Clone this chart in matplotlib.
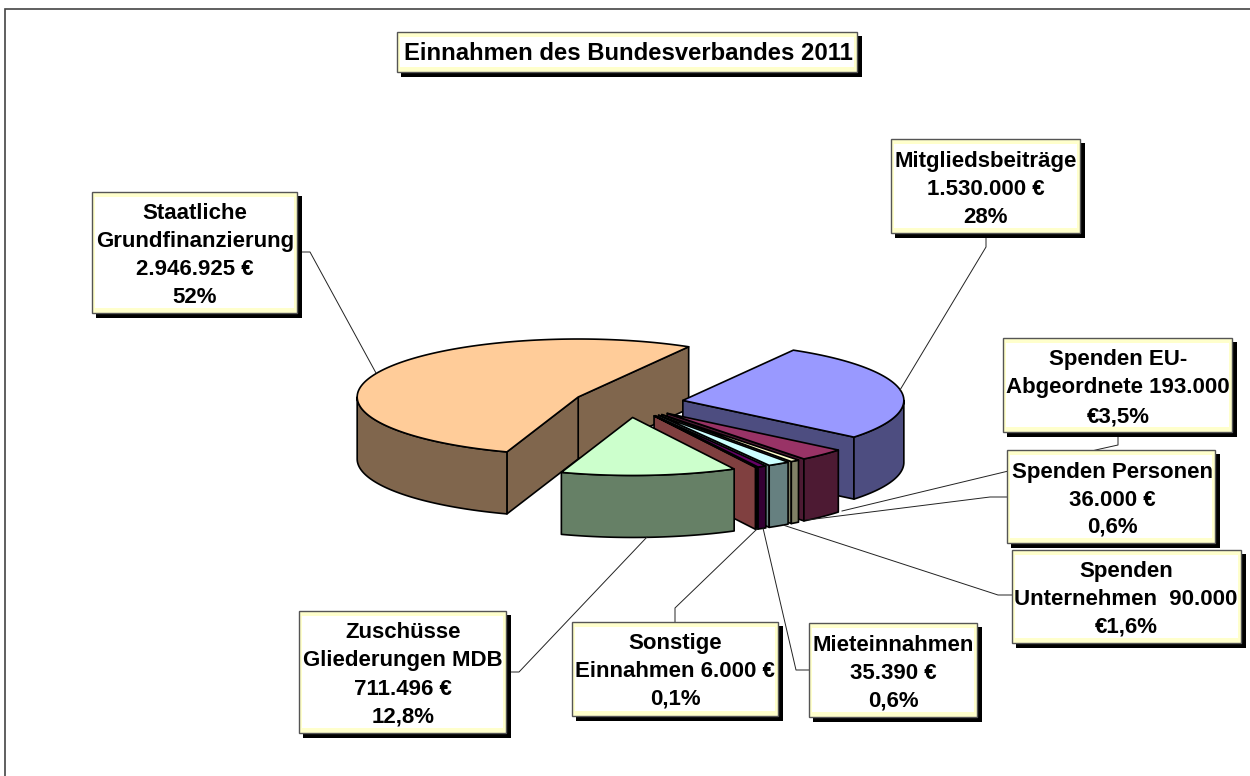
import numpy as np
import matplotlib
matplotlib.use('Agg')
import matplotlib.pyplot as plt
from matplotlib.colors import to_rgb
from matplotlib.patches import Polygon, Rectangle

plt.rcParams['font.family'] = ['Liberation Sans', 'DejaVu Sans']

titulo = 'Einnahmen des Bundesverbandes 2011'

# counter-clockwise on screen, starting at the upper edge of the big slice
categorias = ['Staatliche Grundfinanzierung', 'Zuschüsse Gliederungen MDB', 'Sonstige Einnahmen',
              'Mieteinnahmen', 'Spenden Unternehmen', 'Spenden Personen',
              'Spenden EU-Abgeordnete', 'Mitgliedsbeiträge']
valores = [2946925, 711496, 6000, 35390, 90000, 36000, 193000, 1530000]
colores = ['#FFCC99', '#CCFFCC', '#FF8080', '#660066', '#CCFFFF', '#FFFFCC', '#993366', '#9999FF']

etiquetas = [
    ['Staatliche', 'Grundfinanzierung', '2.946.925 €', '52%'],
    ['Zuschüsse', 'Gliederungen MDB', '711.496 €', '12,8%'],
    ['Sonstige', 'Einnahmen 6.000 €', '0,1%'],
    ['Mieteinnahmen', '35.390 €', '0,6%'],
    ['Spenden', 'Unternehmen  90.000', '€1,6%'],
    ['Spenden Personen', '36.000 €', '0,6%'],
    ['Spenden EU-', 'Abgeordnete 193.000', '€3,5%'],
    ['Mitgliedsbeiträge', '1.530.000 €', '28%'],
]

# layout in pixels: box (x0, y0, x1, y1), text centre, first baseline, line step
cajas = [
    (92, 192, 297, 313, 195, 219, 28),
    (299, 611, 506, 733, 403, 638, 28.3),
    (572, 622, 778, 716, 675, 649, 28),
    (809, 623, 977, 717, 893, 651, 28),
    (1012, 550, 1241, 643, 1126, 577, 28),
    (1007, 450, 1215, 543, 1112, 478, 27.5),
    (1003, 338, 1232, 432, 1118, 365, 28.5),
    (891, 139, 1080, 233, 986, 167, 28),
]
guias = [
    [(297, 252), (310, 252), (376, 373)],
    [(506, 672), (519, 672), (647, 537)],
    [(675, 622), (675, 608), (757, 529)],
    [(809, 670), (796, 670), (763, 528)],
    [(1012, 595), (998, 595), (783, 525)],
    [(1007, 497), (990, 497), (807, 520)],
    [(1118, 432), (1118, 445), (1100, 449), (842, 511)],
    [(986, 233), (986, 247), (900, 390)],
]

CX, CY = 628.5, 403
RX, RY = 221, 58
ALTO = 62
EXPLOSION = 0.25
INICIO = 60


def arco(cx, cy, t0, t1):
    t = np.radians(np.linspace(t0, t1, max(int(abs(t1 - t0)) * 2, 2) + 1))
    return np.column_stack([cx + RX * np.cos(t), cy - RY * np.sin(t)])


def borde(cx, cy, t):
    return arco(cx, cy, t, t)[0]


def dibujar_porcion(ax, t0, t1, color):
    medio = np.radians((t0 + t1) / 2)
    cx = CX + EXPLOSION * RX * np.cos(medio)
    cy = CY - EXPLOSION * RY * np.sin(medio)
    oscuro = tuple(c / 2 for c in to_rgb(color))
    estilo = dict(edgecolor='black', linewidth=1.2, joinstyle='round')

    def pared(t):
        p = borde(cx, cy, t)
        ax.add_patch(Polygon([(cx, cy), p, p + (0, ALTO), (cx, cy + ALTO)], facecolor=oscuro, **estilo))

    # side walls, only those that face the viewer
    if np.sin(np.radians(t0 - 90)) < 0:
        pared(t0)
    if np.sin(np.radians(t1 + 90)) < 0:
        pared(t1)

    # outer rim, lower half of the ellipse
    for a, b in ((180, 360), (540, 720)):
        v0, v1 = max(t0, a), min(t1, b)
        if v1 > v0:
            arriba = arco(cx, cy, v0, v1)
            abajo = arriba[::-1] + (0, ALTO)
            ax.add_patch(Polygon(np.vstack([arriba, abajo]), facecolor=oscuro, **estilo))

    ax.add_patch(Polygon(np.vstack([[(cx, cy)], arco(cx, cy, t0, t1)]), facecolor=color, **estilo))


def dibujar_caja(ax, x0, y0, x1, y1):
    w, h = x1 - x0, y1 - y0
    ax.add_patch(Rectangle((x0 + 4, y0 + 4), w + 0.5, h + 0.5, facecolor='black', edgecolor='none', zorder=5))
    ax.add_patch(Rectangle((x0, y0), w, h, facecolor='#FFFFCC', edgecolor='#555555', linewidth=1.0, zorder=6))
    ax.add_patch(Rectangle((x0 + 3, y0 + 5), w - 6, h - 10, facecolor='white', edgecolor='none', zorder=6))


def main():
    fig = plt.figure(figsize=(12.5, 7.76), dpi=100)
    ax = fig.add_axes([0, 0, 1, 1])
    ax.set_xlim(0, 1250)
    ax.set_ylim(776, 0)
    ax.axis('off')

    ax.add_patch(Rectangle((5, 9), 1300, 800, facecolor='white', edgecolor='#444444', linewidth=1.2))

    total = sum(valores)
    angulos = INICIO + np.concatenate([[0], np.cumsum(valores)]) / total * 360

    # back to front
    orden = [0, 7, 6, 5, 4, 3, 2, 1]
    for i in orden:
        dibujar_porcion(ax, angulos[i], angulos[i + 1], colores[i])

    for guia in guias:
        xs, ys = zip(*guia)
        ax.plot(xs, ys, color='#222222', linewidth=0.7, zorder=4)

    for lineas, caja in zip(etiquetas, cajas):
        x0, y0, x1, y1, xt, yt, paso = caja
        dibujar_caja(ax, x0, y0, x1, y1)
        for j, linea in enumerate(lineas):
            ax.text(xt, yt + j * paso, linea, ha='center', va='baseline', fontsize=16,
                    fontweight='bold', color='black', zorder=7)

    dibujar_caja(ax, 397, 32, 857, 72)
    ax.text(628, 60, titulo, ha='center', va='baseline', fontsize=17.2, fontweight='bold', zorder=7)

    fig.savefig('out.png', dpi=100)


if __name__ == '__main__':
    main()
